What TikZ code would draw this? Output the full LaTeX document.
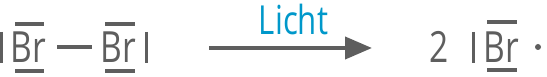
\documentclass[tikz,border=0pt]{standalone}
\usepackage{fontspec}
\newfontfamily\chemfont[FakeStretch=0.78]{Open Sans}
\usetikzlibrary{arrows.meta}
\definecolor{txtgray}{HTML}{5E5E5E}
\definecolor{lichtblue}{HTML}{0098CA}
\tikzset{
  chem/.style={inner sep=0pt, outer sep=0pt, anchor=base, text=txtgray, font=\chemfont\fontsize{43}{43}\selectfont},
  lbl/.style={inner sep=0pt, outer sep=0pt, anchor=base, text=lichtblue, font=\chemfont\fontsize{40}{40}\selectfont},
  bar/.style={draw=txtgray, line width=3.2pt},
  arr/.style={draw=txtgray, line width=4pt, -{Triangle[length=27pt,width=22pt]}}
}
\begin{document}
\begin{tikzpicture}[x=1pt,y=-1pt]
\useasboundingbox (0,0) rectangle (547,77);
% left Br2 molecule
\coordinate (lp1a) at (1,32); \coordinate (lp1b) at (1,63);
\draw[bar] (lp1a) -- (lp1b);
\node[chem] (br1) at (28,63) {Br};
\coordinate (o1a) at (15,24); \coordinate (o1b) at (44,24);
\coordinate (u1a) at (15,71); \coordinate (u1b) at (44,71);
\draw[bar] (o1a) -- (o1b);
\draw[bar] (u1a) -- (u1b);
\coordinate (b1) at (57,47); \coordinate (b2) at (92,47);
\draw[bar] (b1) -- (b2);
\node[chem] (br2) at (118,63) {Br};
\coordinate (o2a) at (105,24); \coordinate (o2b) at (135,24);
\coordinate (u2a) at (105,71); \coordinate (u2b) at (135,71);
\draw[bar] (o2a) -- (o2b);
\draw[bar] (u2a) -- (u2b);
\coordinate (lp2a) at (146.5,32); \coordinate (lp2b) at (146.5,63);
\draw[bar] (lp2a) -- (lp2b);
% arrow
\coordinate (as) at (209,48); \coordinate (ae) at (372,48);
\draw[arr] (as) -- (ae);
\node[lbl] (licht) at (293.5,35) {Licht};
% product
\node[chem] (two) at (439,63) {2};
\coordinate (lp3a) at (473.5,32); \coordinate (lp3b) at (473.5,63);
\draw[bar] (lp3a) -- (lp3b);
\node[chem] (br3) at (501.5,63) {Br};
\coordinate (o3a) at (487,22); \coordinate (o3b) at (517,22);
\coordinate (u3a) at (487,70); \coordinate (u3b) at (517,70);
\draw[bar] (o3a) -- (o3b);
\draw[bar] (u3a) -- (u3b);
\fill[txtgray] (538,47) circle (3);
\end{tikzpicture}
\end{document}
